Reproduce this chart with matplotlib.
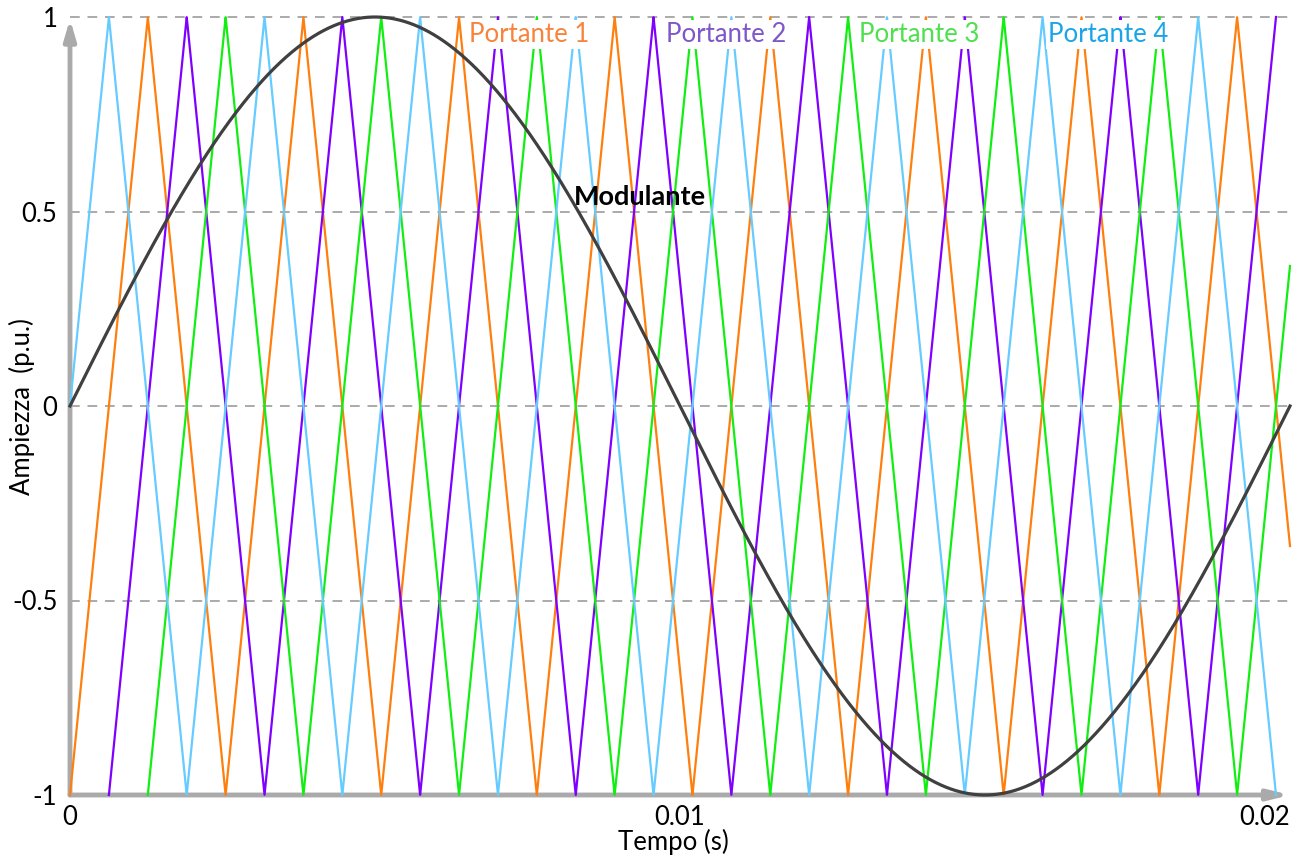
import numpy as np
import matplotlib.pyplot as plt

plt.rcParams['font.family'] = ['Lato', 'DejaVu Sans']

# modulating wave
MOD_FREQ = 50.0          # Hz
MOD_AMPL = 1.0

# carriers: triangle waves, valley at t = phase * period
CARRIER_FREQ = 392.0     # Hz
carrierNames = ['Portante 1', 'Portante 2', 'Portante 3', 'Portante 4']
carrierPhases = [0.0, 0.25, 0.5, 0.75]
carrierStart = [0.0, 0.25, 0.5, 0.0]     # in carrier periods
carrierEnd = [7.84, 7.75, 7.84, 7.75]    # in carrier periods
carrierColors = ['#FF7F0E', '#7F00FF', '#11EE11', '#66CCFF']
labelColors = ['#F7843C', '#7E57C8', '#4EE04E', '#1AA6E6']
labelX = [0.00752, 0.01075, 0.01392, 0.01702]
labelY = [0.955, 0.955, 0.955, 0.955]

T_END = 0.02
yTicks = [-1, -0.5, 0, 0.5, 1]
yTickLabels = ['-1', '-0.5', '0', '0.5', '1']
xTicks = [0, 0.01, 0.02]
xTickLabels = ['0', '0.01', '0.02']


def triangle(t, freq, phase):
    period = 1.0 / freq
    p = ((t - phase * period) / period) % 1.0
    return 1 - 4 * np.abs(p - 0.5)


def makePlot():
    t = np.linspace(0, T_END, 40001)
    period = 1.0 / CARRIER_FREQ

    fig = plt.figure(figsize=(13.01, 8.57), dpi=100)
    ax = fig.add_axes([70 / 1301, 62 / 857, 1220 / 1301, 778 / 857])

    # dashed grid
    for yv in [-0.5, 0, 0.5, 1]:
        ax.plot([0, T_END], [yv, yv], color='#AAAAAA', lw=1.4,
                dashes=(5, 4), zorder=1, clip_on=False)

    # axis arrows
    ax.annotate('', xy=(0, 0.995), xytext=(0, -1.0),
                arrowprops=dict(arrowstyle='-|>,head_length=1.2,head_width=0.35',
                                color='#AAAAAA', lw=3.5, shrinkA=0, shrinkB=0),
                annotation_clip=False, zorder=0)
    ax.annotate('', xy=(T_END, -1.0), xytext=(0, -1.0),
                arrowprops=dict(arrowstyle='-|>,head_length=1.2,head_width=0.3',
                                color='#AAAAAA', lw=3.5, shrinkA=0, shrinkB=0),
                annotation_clip=False, zorder=0)

    for ph, st, en, col in zip(carrierPhases, carrierStart, carrierEnd, carrierColors):
        tc = np.linspace(st * period, min(en * period, T_END), 20001)
        ax.plot(tc, triangle(tc, CARRIER_FREQ, ph), color=col, lw=1.6,
                zorder=2, clip_on=False)

    ax.plot(t, MOD_AMPL * np.sin(2 * np.pi * MOD_FREQ * t), color='#404040',
            lw=2.3, zorder=3, clip_on=False)

    for name, col, lx, ly in zip(carrierNames, labelColors, labelX, labelY):
        ax.text(lx, ly, name, color=col, fontsize=18.5, ha='center', va='center',
                zorder=5, bbox=dict(facecolor='white', edgecolor='none', pad=1.5))

    ax.text(0.00934, 0.537, 'Modulante', color='black', fontsize=19.5,
            fontweight='bold', ha='center', va='center', zorder=5)

    ax.set_xlim(0, T_END)
    ax.set_ylim(-1, 1)
    for s in ax.spines.values():
        s.set_visible(False)
    ax.set_xticks(xTicks)
    ax.set_xticklabels(xTickLabels)
    ax.set_yticks(yTicks)
    ax.set_yticklabels(yTickLabels)
    ax.tick_params(axis='both', length=0, labelsize=18.5)
    ax.tick_params(axis='y', pad=9)
    ax.tick_params(axis='x', pad=7)
    ax.get_xticklabels()[-1].set_horizontalalignment('right')

    fig.text(673 / 1301, 1 - 842 / 857, 'Tempo (s)', fontsize=18.5,
             ha='center', va='center')
    fig.text(22 / 1301, 1 - 407 / 857, 'Ampiezza  (p.u.)', fontsize=18.5,
             ha='center', va='center', rotation=90)

    fig.savefig('out.png', dpi=100)


makePlot()
